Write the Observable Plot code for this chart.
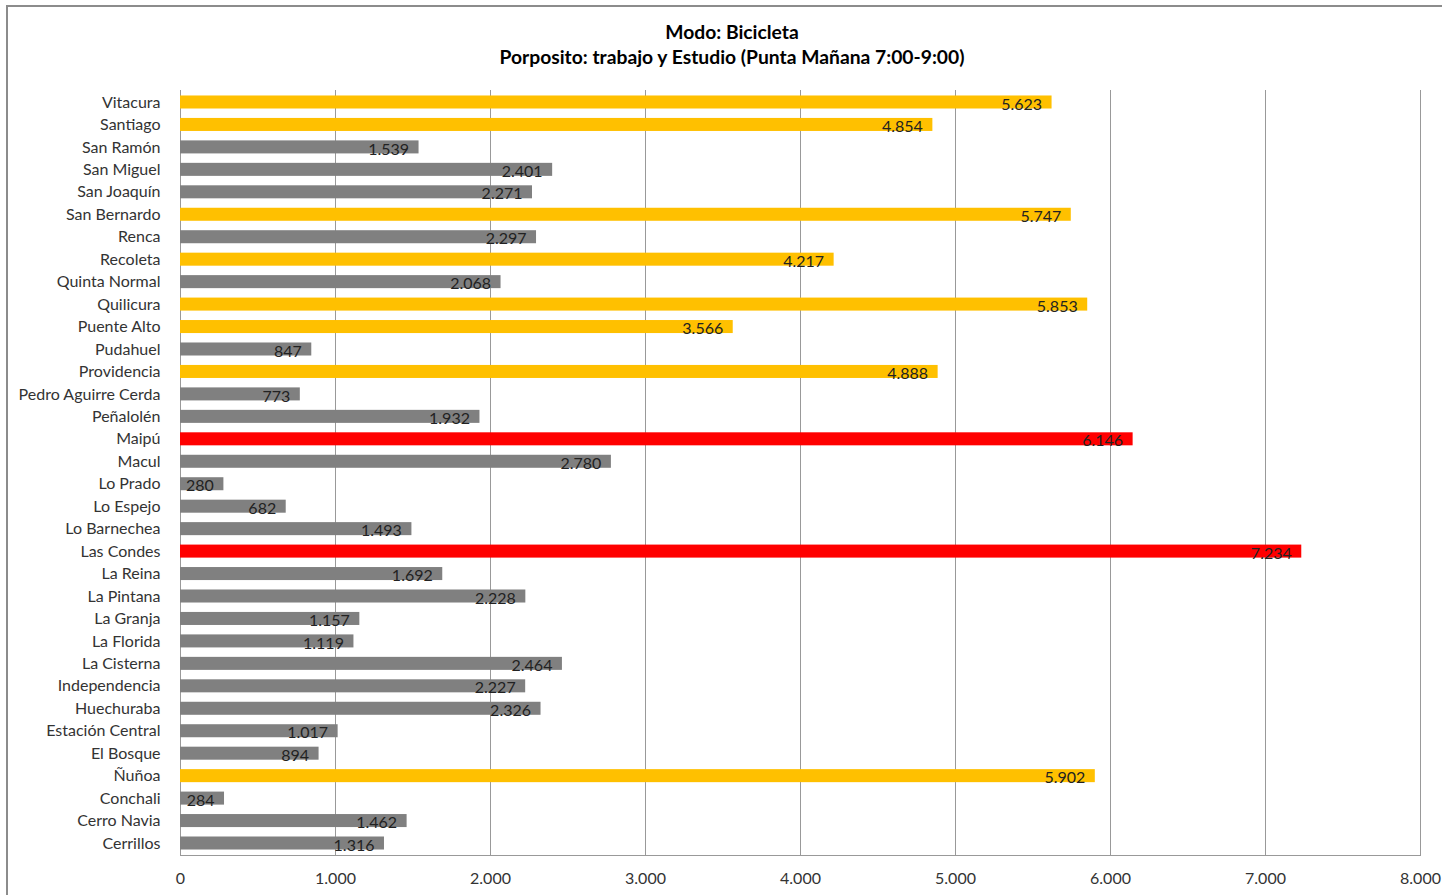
<!DOCTYPE html>
<html><head><meta charset="utf-8">
<script src="https://cdn.jsdelivr.net/npm/d3@7"></script>
<script src="https://cdn.jsdelivr.net/npm/@observablehq/plot@0.6"></script>
<style>
body{margin:0;background:#fff;font-family:Lato,"Open Sans",sans-serif;}
#wrap{position:relative;width:1442px;height:895px;overflow:hidden;}
#border{position:absolute;left:6px;top:5px;width:1445px;height:900px;border:2px solid #8c8c8c;box-sizing:border-box;}
#title{position:absolute;left:0;top:19px;width:1464px;text-align:center;font-weight:bold;font-size:19.3px;line-height:25px;color:#000;}
#chart{position:absolute;left:0;top:0;}
</style></head>
<body><div id="wrap"><div id="border"></div><div id="chart"></div>
<div id="title">Modo: Bicicleta<br>Porposito: trabajo y Estudio (Punta Mañana 7:00-9:00)</div></div>
<script>
const communes = ["Vitacura","Santiago","San Ramón","San Miguel","San Joaquín","San Bernardo","Renca","Recoleta","Quinta Normal","Quilicura","Puente Alto","Pudahuel","Providencia","Pedro Aguirre Cerda","Peñalolén","Maipú","Macul","Lo Prado","Lo Espejo","Lo Barnechea","Las Condes","La Reina","La Pintana","La Granja","La Florida","La Cisterna","Independencia","Huechuraba","Estación Central","El Bosque","Ñuñoa","Conchali","Cerro Navia","Cerrillos"];
const trips = [5623,4854,1539,2401,2271,5747,2297,4217,2068,5853,3566,847,4888,773,1932,6146,2780,280,682,1493,7234,1692,2228,1157,1119,2464,2227,2326,1017,894,5902,284,1462,1316];
const groups = ["alto","alto","medio","medio","medio","alto","medio","alto","medio","alto","alto","medio","alto","medio","medio","maximo","medio","medio","medio","medio","maximo","medio","medio","medio","medio","medio","medio","medio","medio","medio","alto","medio","medio","medio"];
const xTicks = [0,1000,2000,3000,4000,5000,6000,7000,8000];
const groupDomain = ["alto","medio","maximo"];
const groupColors = ["#FFC000","#808080","#FF0000"];

const data = communes.map((c,i)=>({commune:c, value:trips[i], group:groups[i]}));
const loc = d3.formatLocale({decimal:",", thousands:".", grouping:[3], currency:["$",""]});
const fmt = loc.format(",d");

const chart = Plot.plot({
  width: 1442, height: 895,
  marginLeft: 180, marginRight: 22, marginTop: 90, marginBottom: 40,
  style: {fontFamily: "Lato, 'Open Sans', sans-serif", fontSize: "16px", color: "#333", background: "transparent"},
  x: {domain: [0, 8000], ticks: xTicks, tickFormat: fmt},
  y: {domain: communes, paddingInner: 0.42, paddingOuter: 0.244, round: false, label: null},
  color: {domain: groupDomain, range: groupColors},
  marks: [
    Plot.gridX(xTicks, {stroke: "#999", strokeOpacity: 1}),
    Plot.frame({anchor: "bottom", stroke: "#999"}),
    Plot.barX(data, {y: "commune", x: "value", fill: "group"}),
    Plot.text(data, {y: "commune", x: "value", text: d => fmt(d.value), textAnchor: "end", dx: -10, dy: 2, fill: "#222", fontSize: 16}),
    Plot.axisX({ticks: xTicks, tickFormat: fmt, tickSize: 0, tickPadding: 17, label: null, fontSize: 16}),
    Plot.axisY({tickSize: 0, tickPadding: 20, label: null, fontSize: 16})
  ]
});
document.getElementById("chart").appendChild(chart);
</script></body></html>
